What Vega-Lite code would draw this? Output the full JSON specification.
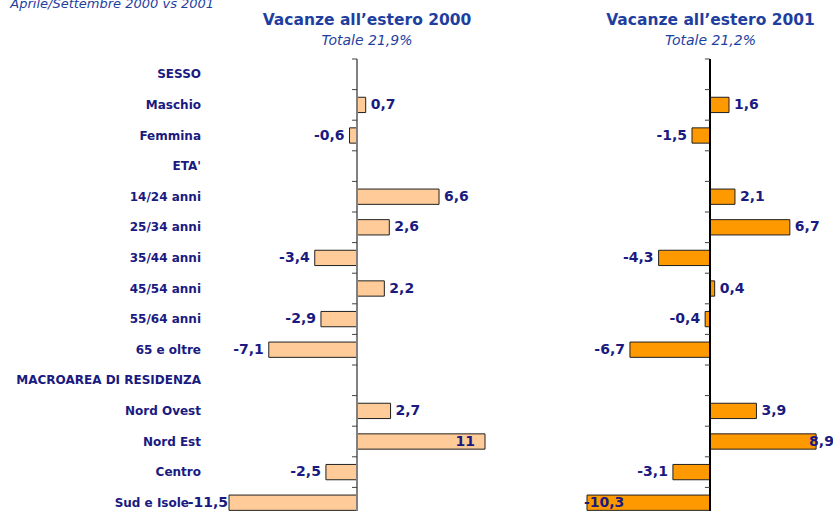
{
  "$schema": "https://vega.github.io/schema/vega-lite/v6.json",
  "padding": {"left": 10, "top": -2, "right": 0, "bottom": 0},
  "background": "white",
  "bounds": "flush",
  "spacing": 102,
  "config": {
    "view": {"stroke": null},
    "locale": {"number": {"decimal": ",", "thousands": ".", "grouping": [3], "currency": ["€", ""], "minus": "-"}}
  },
  "title": {"text": "Aprile/Settembre 2000 vs 2001", "anchor": "start", "font": "DejaVu Sans", "fontStyle": "italic", "fontWeight": "normal", "fontSize": 13, "color": "#1f3f9f", "offset": 2, "dx": -6},
  "data": {"values": [
    {"cat": "SESSO", "a": null, "b": null},
    {"cat": "Maschio", "a": 0.7, "b": 1.6},
    {"cat": "Femmina", "a": -0.6, "b": -1.5},
    {"cat": "ETA'", "a": null, "b": null},
    {"cat": "14/24 anni", "a": 6.6, "b": 2.1},
    {"cat": "25/34 anni", "a": 2.6, "b": 6.7},
    {"cat": "35/44 anni", "a": -3.4, "b": -4.3},
    {"cat": "45/54 anni", "a": 2.2, "b": 0.4},
    {"cat": "55/64 anni", "a": -2.9, "b": -0.4},
    {"cat": "65 e oltre", "a": -7.1, "b": -6.7},
    {"cat": "MACROAREA DI RESIDENZA", "a": null, "b": null},
    {"cat": "Nord Ovest", "a": 2.7, "b": 3.9},
    {"cat": "Nord Est", "a": 11, "b": 8.9},
    {"cat": "Centro", "a": -2.5, "b": -3.1},
    {"cat": "Sud e Isole", "a": -11.5, "b": -10.3}
  ]},
  "hconcat": [
    {
      "width": 256,
      "height": 459,
      "title": {"text": "Vacanze all’estero 2000", "subtitle": "Totale 21,9%", "anchor": "middle", "dx": 10, "font": "DejaVu Sans", "fontSize": 15.5, "fontWeight": "bold", "color": "#1f3f9f", "subtitleFont": "DejaVu Sans", "subtitleFontStyle": "italic", "subtitleFontSize": 14, "subtitleColor": "#1f3f9f", "subtitlePadding": 5, "offset": 11},
      "layer": [
        {"mark": {"type": "bar", "height": {"band": 0.5}, "fill": "#ffcc99", "stroke": "#202020", "strokeWidth": 1},
         "encoding": {
           "y": {"field": "cat", "type": "nominal", "sort": null,
             "scale": {"domain": ["SESSO", "Maschio", "Femmina", "ETA'", "14/24 anni", "25/34 anni", "35/44 anni", "45/54 anni", "55/64 anni", "65 e oltre", "MACROAREA DI RESIDENZA", "Nord Ovest", "Nord Est", "Centro", "Sud e Isole"], "paddingInner": 0, "paddingOuter": 0},
             "axis": null},
           "x": {"field": "a", "type": "quantitative", "scale": {"domain": [-10.3, 10.3], "clamp": true, "nice": false}, "axis": null}}},
        {"mark": {"type": "rule", "color": "#808080", "strokeWidth": 1}, "encoding": {"x": {"datum": 0, "type": "quantitative", "scale": {"domain": [-10.3, 10.3], "clamp": true, "nice": false}}}},
        {"mark": {"type": "rule", "color": "#404040", "strokeWidth": 1}, "encoding": {"y": {"field": "cat", "type": "nominal", "bandPosition": 0}, "x": {"datum": -0.4, "type": "quantitative", "scale": {"domain": [-10.3, 10.3], "clamp": true, "nice": false}}, "x2": {"datum": 0}}},
        {"transform": [{"filter": "datum.cat !== 'Sud e Isole'"}],
         "mark": {"type": "text", "align": "right", "baseline": "middle", "dx": -28, "font": "DejaVu Sans", "fontWeight": "bold", "fontSize": 12, "color": "#1a1a80"},
         "encoding": {"y": {"field": "cat", "type": "nominal"}, "x": {"datum": -10.3, "type": "quantitative", "scale": {"domain": [-10.3, 10.3], "clamp": true, "nice": false}}, "text": {"field": "cat", "type": "nominal"}}},
        {"transform": [{"filter": "datum.cat === 'Sud e Isole'"}],
         "mark": {"type": "text", "align": "right", "baseline": "middle", "dx": -40, "font": "DejaVu Sans", "fontWeight": "bold", "fontSize": 12, "color": "#1a1a80"},
         "encoding": {"y": {"field": "cat", "type": "nominal"}, "x": {"datum": -10.3, "type": "quantitative", "scale": {"domain": [-10.3, 10.3], "clamp": true, "nice": false}}, "text": {"field": "cat", "type": "nominal"}}},
        {"transform": [{"filter": "datum.a > 0 && datum.a < 10.3"}],
         "mark": {"type": "text", "align": "left", "baseline": "middle", "dx": 5, "font": "DejaVu Sans", "fontWeight": "bold", "fontSize": 14, "color": "#1a1a80"},
         "encoding": {"y": {"field": "cat", "type": "nominal"}, "x": {"field": "a", "type": "quantitative", "scale": {"domain": [-10.3, 10.3], "clamp": true, "nice": false}}, "text": {"field": "a", "type": "quantitative", "format": ".1~f"}}},
        {"transform": [{"filter": "datum.a < 0 && datum.a > -10.3"}],
         "mark": {"type": "text", "align": "right", "baseline": "middle", "dx": -5, "font": "DejaVu Sans", "fontWeight": "bold", "fontSize": 14, "color": "#1a1a80"},
         "encoding": {"y": {"field": "cat", "type": "nominal"}, "x": {"field": "a", "type": "quantitative", "scale": {"domain": [-10.3, 10.3], "clamp": true, "nice": false}}, "text": {"field": "a", "type": "quantitative", "format": ".1~f"}}},
        {"transform": [{"filter": "datum.a >= 10.3"}],
         "mark": {"type": "text", "align": "right", "baseline": "middle", "dx": -10, "font": "DejaVu Sans", "fontWeight": "bold", "fontSize": 14, "color": "#1a1a80"},
         "encoding": {"y": {"field": "cat", "type": "nominal"}, "x": {"field": "a", "type": "quantitative", "scale": {"domain": [-10.3, 10.3], "clamp": true, "nice": false}}, "text": {"field": "a", "type": "quantitative", "format": ".1~f"}}},
        {"transform": [{"filter": "datum.a <= -10.3"}],
         "mark": {"type": "text", "align": "right", "baseline": "middle", "dx": -1, "font": "DejaVu Sans", "fontWeight": "bold", "fontSize": 14, "color": "#1a1a80"},
         "encoding": {"y": {"field": "cat", "type": "nominal"}, "x": {"field": "a", "type": "quantitative", "scale": {"domain": [-10.3, 10.3], "clamp": true, "nice": false}}, "text": {"field": "a", "type": "quantitative", "format": ".1~f"}}}
      ]
    },
    {
      "width": 247,
      "height": 459,
      "title": {"text": "Vacanze all’estero 2001", "subtitle": "Totale 21,2%", "anchor": "middle", "font": "DejaVu Sans", "fontSize": 15.5, "fontWeight": "bold", "color": "#1f3f9f", "subtitleFont": "DejaVu Sans", "subtitleFontStyle": "italic", "subtitleFontSize": 14, "subtitleColor": "#1f3f9f", "subtitlePadding": 5, "offset": 11},
      "layer": [
        {"mark": {"type": "bar", "height": {"band": 0.5}, "fill": "#ff9900", "stroke": "#202020", "strokeWidth": 1},
         "encoding": {
           "y": {"field": "cat", "type": "nominal", "sort": null,
             "scale": {"domain": ["SESSO", "Maschio", "Femmina", "ETA'", "14/24 anni", "25/34 anni", "35/44 anni", "45/54 anni", "55/64 anni", "65 e oltre", "MACROAREA DI RESIDENZA", "Nord Ovest", "Nord Est", "Centro", "Sud e Isole"], "paddingInner": 0, "paddingOuter": 0},
             "axis": null},
           "x": {"field": "b", "type": "quantitative", "scale": {"domain": [-10.3, 10.4], "nice": false}, "axis": null}}},
        {"mark": {"type": "rule", "color": "#000000", "strokeWidth": 1}, "encoding": {"x": {"datum": 0, "type": "quantitative", "scale": {"domain": [-10.3, 10.4], "nice": false}}}},
        {"mark": {"type": "rule", "color": "#404040", "strokeWidth": 1}, "encoding": {"y": {"field": "cat", "type": "nominal", "bandPosition": 0}, "x": {"datum": -0.42, "type": "quantitative", "scale": {"domain": [-10.3, 10.4], "nice": false}}, "x2": {"datum": 0}}},
        {"transform": [{"filter": "datum.b > 0 && datum.b < 8"}],
         "mark": {"type": "text", "align": "left", "baseline": "middle", "dx": 5, "font": "DejaVu Sans", "fontWeight": "bold", "fontSize": 14, "color": "#1a1a80"},
         "encoding": {"y": {"field": "cat", "type": "nominal"}, "x": {"field": "b", "type": "quantitative", "scale": {"domain": [-10.3, 10.4], "nice": false}}, "text": {"field": "b", "type": "quantitative", "format": ".1~f"}}},
        {"transform": [{"filter": "datum.b < 0 && datum.b > -8"}],
         "mark": {"type": "text", "align": "right", "baseline": "middle", "dx": -5, "font": "DejaVu Sans", "fontWeight": "bold", "fontSize": 14, "color": "#1a1a80"},
         "encoding": {"y": {"field": "cat", "type": "nominal"}, "x": {"field": "b", "type": "quantitative", "scale": {"domain": [-10.3, 10.4], "nice": false}}, "text": {"field": "b", "type": "quantitative", "format": ".1~f"}}},
        {"transform": [{"filter": "datum.b >= 8"}],
         "mark": {"type": "text", "align": "left", "baseline": "middle", "dx": -7, "font": "DejaVu Sans", "fontWeight": "bold", "fontSize": 14, "color": "#1a1a80"},
         "encoding": {"y": {"field": "cat", "type": "nominal"}, "x": {"field": "b", "type": "quantitative", "scale": {"domain": [-10.3, 10.4], "nice": false}}, "text": {"field": "b", "type": "quantitative", "format": ".1~f"}}},
        {"transform": [{"filter": "datum.b <= -8"}],
         "mark": {"type": "text", "align": "left", "baseline": "middle", "dx": -3, "font": "DejaVu Sans", "fontWeight": "bold", "fontSize": 14, "color": "#1a1a80"},
         "encoding": {"y": {"field": "cat", "type": "nominal"}, "x": {"field": "b", "type": "quantitative", "scale": {"domain": [-10.3, 10.4], "nice": false}}, "text": {"field": "b", "type": "quantitative", "format": ".1~f"}}}
      ]
    }
  ]
}
